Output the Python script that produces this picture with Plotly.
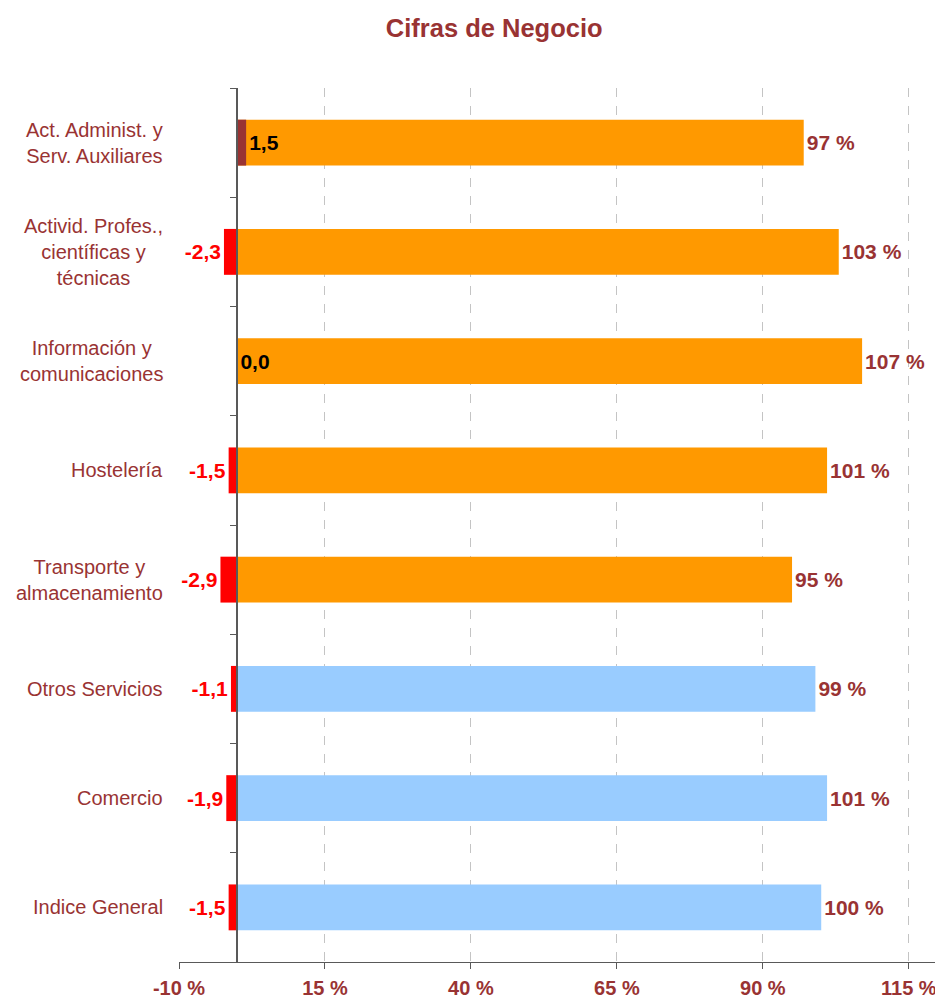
import plotly.graph_objects as go

sectors = ['Act. Administ. y<br>Serv. Auxiliares',
           'Activid. Profes.,<br>científicas y<br>técnicas',
           'Información y<br>comunicaciones',
           'Hostelería',
           'Transporte y<br>almacenamiento',
           'Otros Servicios',
           'Comercio',
           'Indice General']
index_level = [97, 103, 107, 101, 95, 99, 101, 100]
monthly_change = [1.5, -2.3, 0.0, -1.5, -2.9, -1.1, -1.9, -1.5]
x_ticks = [-10, 15, 40, 65, 90, 115]

dark_red = '#993333'
orange = '#FF9900'
light_blue = '#99CCFF'
selected_font = 'Liberation Sans, Arial, sans-serif'

big_colors = [orange] * 5 + [light_blue] * 3
small_colors = ['#FF0000' if v < 0 else dark_red for v in monthly_change]
small_text_colors = ['#FF0000' if v < 0 else 'black' for v in monthly_change]

fig = go.Figure()
fig.add_trace(go.Bar(y=sectors, x=index_level, orientation='h', width=0.42,
                     marker_color=big_colors, marker_line_width=0,
                     text=[f'{v:.0f} %' for v in index_level],
                     textposition='outside', cliponaxis=False,
                     textfont=dict(size=21, color=dark_red, family=selected_font, weight='bold'),
                     showlegend=False))
fig.add_trace(go.Bar(y=sectors, x=monthly_change, orientation='h', width=0.42,
                     yaxis='y2',
                     marker_color=small_colors, marker_line_width=0,
                     text=[f'{v:.1f}'.replace('.', ',') for v in monthly_change],
                     textposition='outside', cliponaxis=False,
                     textfont=dict(size=21, color=small_text_colors, family=selected_font, weight='bold'),
                     showlegend=False))

for s in sectors:
    fig.add_annotation(x=-0.019, xref='paper', xanchor='right',
                       y=s, yref='y', align='center', showarrow=False,
                       text=s, font=dict(size=20, color=dark_red, family=selected_font))

# page body has an 8px margin, so the figure is a bit smaller than the window
fig.update_layout(
    width=935, height=993,
    margin=dict(l=171, r=5, t=80, b=39),
    paper_bgcolor='white', plot_bgcolor='white',
    font_family=selected_font,
    barmode='overlay',
    title=dict(text='<b>Cifras de Negocio</b>', x=0.52, xanchor='center',
               y=0.98, yanchor='middle',
               font=dict(size=25.5, color=dark_red, family=selected_font)),
    xaxis=dict(range=[-10, 120], tickvals=x_ticks,
               ticktext=[f'{v} %' for v in x_ticks],
               tickfont=dict(size=20, color=dark_red, family=selected_font, weight='bold'),
               showgrid=True, gridcolor='#C4C4C4', griddash='dash', gridwidth=1,
               zeroline=False, showline=True, linecolor='#595959', linewidth=1,
               ticks='outside', ticklen=6, tickcolor='#595959',
               ticklabelstandoff=2, automargin=False),
    yaxis=dict(categoryorder='array', categoryarray=sectors, range=[7.5, -0.5],
               showticklabels=False, showgrid=False, zeroline=False, showline=False,
               automargin=False),
    yaxis2=dict(categoryorder='array', categoryarray=sectors, range=[7.5, -0.5],
                overlaying='y', anchor='free', position=10 / 130, side='left',
                showticklabels=False, showgrid=False, zeroline=False,
                showline=True, linecolor='#595959', linewidth=1.5,
                ticks='outside', tickson='boundaries', ticklen=7, tickcolor='#595959'),
)

fig.write_html('out.html')
